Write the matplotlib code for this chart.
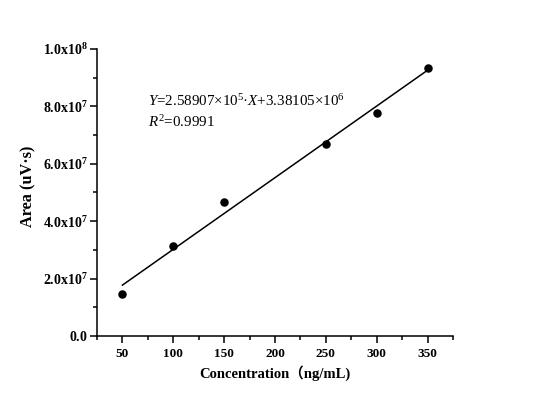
import numpy as np
import matplotlib
matplotlib.use("Agg")
import matplotlib.pyplot as plt
from matplotlib.ticker import MultipleLocator, FuncFormatter

# data
concentration = [50, 100, 150, 250, 300, 350]
area = [1.46e7, 3.14e7, 4.68e7, 6.70e7, 7.78e7, 9.34e7]
equation_text = r"$\mathit{Y}$=2.58907×10$^{5}$·$\mathit{X}$+3.38105×10$^{6}$"
r2_text = r"$\mathit{R}^{2}$=0.9991"

plt.rcParams["font.family"] = ["Liberation Serif", "Noto Sans CJK SC"]
plt.rcParams["mathtext.fontset"] = "custom"
plt.rcParams["mathtext.rm"] = "Liberation Serif"
plt.rcParams["mathtext.it"] = "Liberation Serif:italic"
plt.rcParams["mathtext.bf"] = "Liberation Serif:bold"

fig = plt.figure(figsize=(5.5, 4.03), dpi=100)
ax = fig.add_axes([0.1764, 0.1663, 0.6472, 0.7121])

ax.scatter(concentration, area, s=26, color="black", zorder=3)

# linear fit drawn over the data range
slope, intercept = np.polyfit(concentration, area, 1)
xs = np.array([min(concentration), max(concentration)])
ax.plot(xs, slope * xs + intercept, color="black", linewidth=1.1)

ax.set_xlim(25, 375)
ax.set_ylim(0, 1.0e8)
ax.xaxis.set_major_locator(MultipleLocator(50))
ax.xaxis.set_minor_locator(MultipleLocator(25))
ax.yaxis.set_major_locator(MultipleLocator(2.0e7))
ax.yaxis.set_minor_locator(MultipleLocator(1.0e7))
ax.set_xticks([50, 100, 150, 200, 250, 300, 350])


def sci_label(v, pos):
    if abs(v) < 1:
        return r"$\mathbf{0.0}$"
    if v < 0:
        return ""
    exp = int(np.floor(np.log10(v) + 1e-9))
    mant = v / 10 ** exp
    return r"$\mathbf{%.1fx10^{%d}}$" % (mant, exp)


ax.yaxis.set_major_formatter(FuncFormatter(sci_label))

for s in ["top", "right"]:
    ax.spines[s].set_visible(False)
for s in ["left", "bottom"]:
    ax.spines[s].set_linewidth(1.1)

ax.tick_params(which="major", direction="out", length=5, width=1.1, labelsize=9.5)
ax.tick_params(axis="y", which="major", labelsize=10, pad=1.5)
ax.tick_params(which="minor", direction="out", length=3, width=1.1)
for lbl in ax.get_xticklabels():
    lbl.set_fontweight("bold")

ax.set_xlabel("Concentration（ng/mL)", fontsize=10.5, fontweight="bold", labelpad=4)
ax.set_ylabel("Area (uV·s)", fontsize=11.7, fontweight="bold", labelpad=5)
ax.yaxis.label.set_y(0.523)

ax.text(75, 8.17e7, equation_text, fontsize=10.8, va="center", ha="left")
ax.text(75, 7.45e7, r2_text, fontsize=10.8, va="center", ha="left")

fig.savefig("out.png", dpi=100)
